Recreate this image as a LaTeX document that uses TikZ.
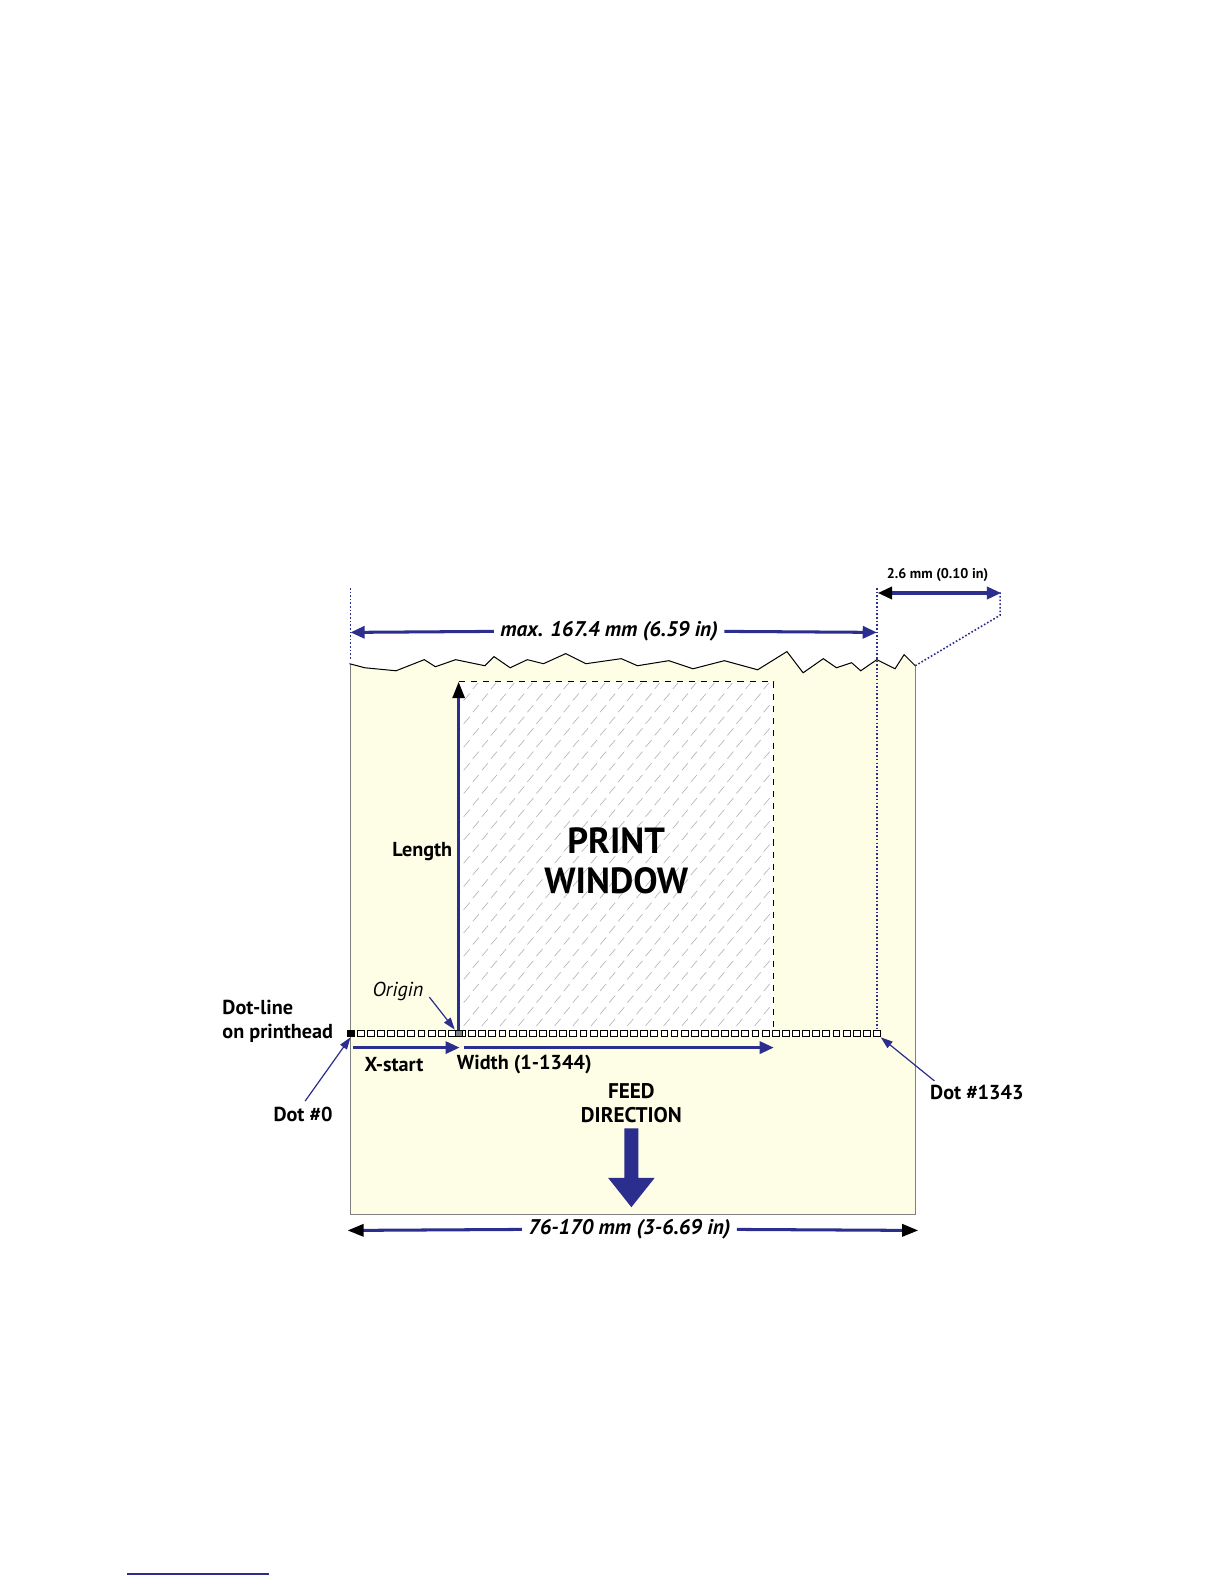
\documentclass[tikz,border=0pt]{standalone}
\usepackage{fontspec}
\setmainfont{PT Sans}
\usetikzlibrary{arrows.meta}
\definecolor{nav}{HTML}{2B2E8C}
\definecolor{paper}{HTML}{FEFEE6}
\tikzset{
  lbl/.style={font=\bfseries\fontsize{10}{11}\selectfont, inner sep=1pt},
  dim/.style={nav, line width=1.5pt},
  bh/.style={-{Triangle[length=7pt,width=6pt]}},
  dotted line/.style={nav, densely dotted, line width=0.8pt},
  pointer/.style={nav, line width=0.6pt, -{Triangle[length=6pt,width=4pt]}},
  sq/.style={draw=black, line width=0.4pt, minimum size=3.4pt, inner sep=0pt, fill=white}
}
\begin{document}
\begin{tikzpicture}[x=0.5pt,y=-0.5pt]
% paper
\fill[paper] (346,657) -- (361,661) -- (392,664) -- (420,653) -- (431,660) -- (451,653) -- (480,659) -- (489,650) -- (505,661) -- (522,653) -- (538,657) -- (560,647) -- (580,657) -- (615,652) -- (631,659) -- (662,654) -- (686,662) -- (717,654) -- (750,663) -- (779,645) -- (795,666) -- (815,652) -- (828,661) -- (843,656) -- (852,664) -- (868,653) -- (886,662) -- (895,648) -- (906,659) -- (906,1202) -- (346,1202) -- cycle;
\draw[draw=gray, line width=0.5pt] (906,659) -- (906,1202) -- (347,1202) -- (347,657);
\draw[line width=0.5pt] (346,657) -- (361,661) -- (392,664) -- (420,653) -- (431,660) -- (451,653) -- (480,659) -- (489,650) -- (505,661) -- (522,653) -- (538,657) -- (560,647) -- (580,657) -- (615,652) -- (631,659) -- (662,654) -- (686,662) -- (717,654) -- (750,663) -- (779,645) -- (795,666) -- (815,652) -- (828,661) -- (843,656) -- (852,664) -- (868,653) -- (886,662) -- (895,648) -- (906,659);
% print window
\fill[white] (454,675) rectangle (766,1022);
\begin{scope}
\clip (456,677) rectangle (764,1020);
\foreach \r in {0,...,30}{
  \foreach \c in {0,...,18}{
    \pgfmathsetmacro{\xx}{450+\c*18+mod(\r,2)*9}
    \pgfmathsetmacro{\yy}{682+\r*11.5}
    \draw[gray!60, line width=0.3pt] (\xx,\yy) -- ++(6,-7);
  }
}
\end{scope}
\draw[dashed, line width=0.5pt] (454,675) -- (766,675) -- (766,1022);
\node[font=\bfseries\fontsize{18}{19}\selectfont, align=center] (pw) at (610,852) {PRINT\\[1pt]WINDOW};
% dotted guides
\coordinate (gl1) at (347,582); \coordinate (gl2) at (347,652);
\coordinate (gr1) at (868,582); \coordinate (gr2) at (868,1018);
\draw[dotted line] (gl1) -- (gl2);
\draw[dotted line] (gr1) -- (gr2);
\coordinate (d1) at (906,659); \coordinate (d2) at (990,609); \coordinate (d3) at (990,585);
\draw[dotted line] (d1) -- (d2) -- (d3);
% max arrow
\node[lbl, font=\bfseries\itshape\fontsize{10.5}{11}\selectfont, inner sep=3pt] (max) at (603,625) {max. 167.4 mm (6.59 in)};
\coordinate (ml) at (347,626); \coordinate (mr) at (868,626);
\draw[dim, bh] (max.west) -- (ml);
\draw[dim, bh] (max.east) -- (mr);
% 2.6 mm
\coordinate (sl) at (869,587); \coordinate (sr) at (991,587);
\draw[dim, {Triangle[length=7pt,width=6pt,black]}-{Triangle[length=7pt,width=6pt]}] (sl) -- (sr);
\node[lbl, font=\bfseries\fontsize{7}{8}\selectfont] (small) at (928,569) {2.6 mm (0.10 in)};
% dot line
\foreach \i in {0,...,52}{
  \node[sq] (s\i) at ({347+\i*10.02},1023) {};
}
\node[sq, fill=black] (dot0) at (347,1023) {};
\node[sq, fill=gray] (orig) at (454,1023) {};
\node[sq] (dotend) at (868,1023) {};
% length
\coordinate (ltop) at (454,675);
\draw[nav, line width=1.2pt, -{Triangle[length=8pt,width=6pt,black]}] (orig.north) -- (ltop);
\node[lbl] (len) at (418,843) {Length};
% X-start / width
\coordinate (x1) at (349,1037); \coordinate (x2) at (455,1037);
\coordinate (w1) at (459,1037); \coordinate (w2) at (766,1037);
\draw[dim, bh] (x1) -- (x2);
\draw[dim, bh] (w1) -- (w2);
\node[lbl] (xs) at (390,1054) {X-start};
\node[lbl] (wd) at (519,1054) {Width (1-1344)};
% origin
\node[font=\itshape\fontsize{10}{11}\selectfont] (ori) at (394,981) {Origin};
\draw[pointer] (425,987) -- (orig.north west);
% labels
\node[lbl, align=left] (dl) at (275,1011) {Dot-line\\[1pt]on printhead};
\node[lbl] (d0) at (300,1103) {Dot \#0};
\draw[pointer] (302,1090) -- (dot0.south);
\node[lbl] (d1343) at (967,1081) {Dot \#1343};
\draw[pointer] (925,1070) -- (dotend.south east);
% feed
\node[lbl, font=\bfseries\fontsize{10.5}{11}\selectfont, align=center] (feed) at (625,1092) {FEED\\[1pt]DIRECTION};
\fill[nav] (618,1117) -- (632,1117) -- (632,1166) -- (648,1166) -- (625,1195) -- (602,1166) -- (618,1166) -- cycle;
% bottom width
\node[lbl, font=\bfseries\itshape\fontsize{10.5}{11}\selectfont, inner sep=3pt] (bw) at (623,1217) {76-170 mm (3-6.69 in)};
\coordinate (bl) at (344,1218); \coordinate (br) at (909,1218);
\draw[dim, -{Triangle[length=8pt,width=6pt,black]}] (bw.west) -- (bl);
\draw[dim, -{Triangle[length=8pt,width=6pt,black]}] (bw.east) -- (br);
% footnote rule
\coordinate (f1) at (126,1558); \coordinate (f2) at (266,1558);
\draw[nav, line width=0.6pt] (f1) -- (f2);
\pgfresetboundingbox
\useasboundingbox (0,0) rectangle (1212,1568);
\end{tikzpicture}
\end{document}
